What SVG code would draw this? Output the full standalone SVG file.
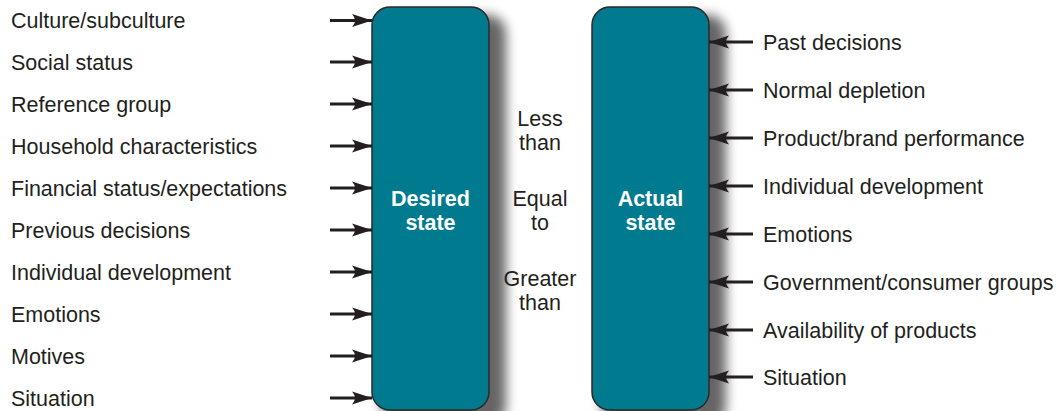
<svg xmlns="http://www.w3.org/2000/svg" width="1057" height="411" viewBox="0 0 1057 411">
  <defs>
    <filter id="soft" x="-20%" y="-10%" width="140%" height="120%">
      <feGaussianBlur stdDeviation="6"/>
    </filter>
    <marker id="head" viewBox="0 0 20 14" refX="20" refY="7" markerWidth="20" markerHeight="14" markerUnits="userSpaceOnUse" orient="auto">
      <path d="M0,0.5 L20,7 L0,13.5 Q6,7 0,0.5 Z" fill="#231f20"/>
    </marker>
    <style>
      .lbl { font-family: "Liberation Sans", Arial, sans-serif; font-size: 21.5px; fill: #231f20; }
      .mid { font-family: "Liberation Sans", Arial, sans-serif; font-size: 21.5px; fill: #231f20; text-anchor: middle; }
      .box { fill: #007a8f; stroke: #2a2a2a; stroke-width: 1.5; }
      .shadow { fill: #000; opacity: 0.6; filter: url(#soft); }
      .title { font-family: "Liberation Sans", Arial, sans-serif; font-size: 21.5px; font-weight: bold; fill: #ffffff; text-anchor: middle; }
      .arr { stroke: #231f20; stroke-width: 2.8; fill: none; marker-end: url(#head); }
    </style>
  </defs>

  <rect width="1057" height="411" fill="#ffffff"/>

  <!-- soft drop shadows behind the two state boxes -->
  <rect class="shadow" x="382" y="15" width="124" height="410" rx="18"/>
  <rect class="shadow" x="602" y="15" width="124" height="410" rx="18"/>

  <g id="desired-state">
    <rect class="box" x="372" y="7" width="117" height="403" rx="18"/>
    <text class="title" x="430.5" y="205.5">Desired</text>
    <text class="title" x="430.5" y="229.5">state</text>
  </g>

  <g id="actual-state">
    <rect class="box" x="592" y="7" width="117" height="403" rx="18"/>
    <text class="title" x="650.5" y="205.5">Actual</text>
    <text class="title" x="650.5" y="229.5">state</text>
  </g>

  <g id="comparison">
    <text class="mid" x="540" y="125.5">Less</text>
    <text class="mid" x="540" y="149.5">than</text>
    <text class="mid" x="540" y="205.5">Equal</text>
    <text class="mid" x="540" y="229.5">to</text>
    <text class="mid" x="540" y="285.5">Greater</text>
    <text class="mid" x="540" y="309.5">than</text>
  </g>

  <g id="desired-factors">
    <text class="lbl" x="11" y="28">Culture/subculture</text>
    <text class="lbl" x="11" y="70">Social status</text>
    <text class="lbl" x="11" y="112">Reference group</text>
    <text class="lbl" x="11" y="154">Household characteristics</text>
    <text class="lbl" x="11" y="196">Financial status/expectations</text>
    <text class="lbl" x="11" y="238">Previous decisions</text>
    <text class="lbl" x="11" y="280">Individual development</text>
    <text class="lbl" x="11" y="322">Emotions</text>
    <text class="lbl" x="11" y="364">Motives</text>
    <text class="lbl" x="11" y="406">Situation</text>
  </g>

  <g id="actual-factors">
    <text class="lbl" x="763" y="50">Past decisions</text>
    <text class="lbl" x="763" y="98">Normal depletion</text>
    <text class="lbl" x="763" y="146">Product/brand performance</text>
    <text class="lbl" x="763" y="194">Individual development</text>
    <text class="lbl" x="763" y="242">Emotions</text>
    <text class="lbl" x="763" y="290">Government/consumer groups</text>
    <text class="lbl" x="763" y="338">Availability of products</text>
    <text class="lbl" x="763" y="385">Situation</text>
  </g>

  <g id="connectors">
    <line class="arr" x1="330" y1="20.5" x2="372" y2="20.5"/>
    <line class="arr" x1="330" y1="62" x2="372" y2="62"/>
    <line class="arr" x1="330" y1="104" x2="372" y2="104"/>
    <line class="arr" x1="330" y1="146" x2="372" y2="146"/>
    <line class="arr" x1="330" y1="188" x2="372" y2="188"/>
    <line class="arr" x1="330" y1="230" x2="372" y2="230"/>
    <line class="arr" x1="330" y1="272" x2="372" y2="272"/>
    <line class="arr" x1="330" y1="314" x2="372" y2="314"/>
    <line class="arr" x1="330" y1="356" x2="372" y2="356"/>
    <line class="arr" x1="330" y1="398" x2="372" y2="398"/>

    <line class="arr" x1="753" y1="42" x2="709" y2="42"/>
    <line class="arr" x1="753" y1="90" x2="709" y2="90"/>
    <line class="arr" x1="753" y1="138" x2="709" y2="138"/>
    <line class="arr" x1="753" y1="186" x2="709" y2="186"/>
    <line class="arr" x1="753" y1="234" x2="709" y2="234"/>
    <line class="arr" x1="753" y1="282" x2="709" y2="282"/>
    <line class="arr" x1="753" y1="330" x2="709" y2="330"/>
    <line class="arr" x1="753" y1="377" x2="709" y2="377"/>
  </g>
</svg>
